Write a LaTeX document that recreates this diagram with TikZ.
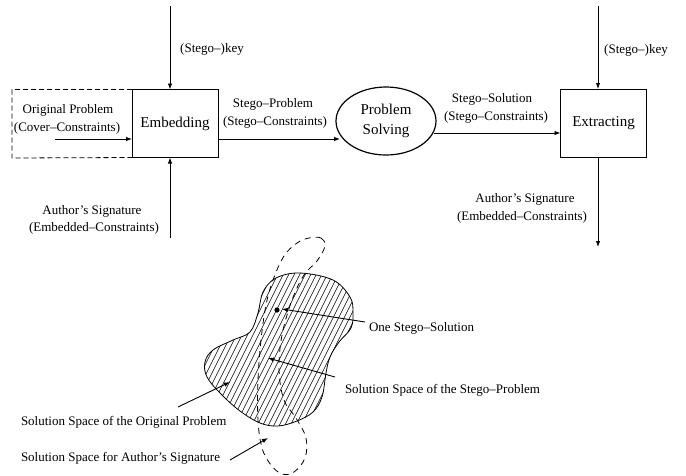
\documentclass[tikz,border=0pt]{standalone}
\usepackage{fontspec}
\setmainfont{Liberation Serif}
\usetikzlibrary{arrows.meta,shapes.geometric}
\begin{document}
\begin{tikzpicture}[x=1pt,y=-1pt,
  every node/.style={inner sep=0pt,outer sep=0pt},
  lbl/.style={font=\fontsize{13}{15}\selectfont},
  big/.style={font=\fontsize{15}{18}\selectfont},
  boxn/.style={draw,line width=0.9pt,minimum width=86pt,minimum height=68pt,big},
  arr/.style={line width=0.9pt,-{Latex[length=6pt,width=4.5pt]}},
  thin/.style={line width=0.8pt}]
\useasboundingbox (0,0) rectangle (686,475);

% upper blocks
\node[boxn] (emb) at (175,123.5) {Embedding};
\node[boxn] (ext) at (603.5,123) {Extracting};
\node[draw,ellipse,line width=1.2pt,minimum width=100pt,minimum height=68pt,big,align=center] (ps) at (386,121) {Problem\\[2pt]Solving};

% dashed original problem box
\coordinate (dbl) at (12,158);
\draw[dashed,thin,dash pattern=on 5pt off 3pt] (emb.north west) -| (dbl) -- (emb.south west);

% free ends
\coordinate (orig) at (55,139);
\coordinate (key1) at (170,6);
\coordinate (sig1) at (170,238);
\coordinate (key2) at (598,6);
\coordinate (sig2) at (598,247);

\draw[arr] (orig) -- (orig -| emb.west);
\draw[arr] (key1) -- (key1 |- emb.north);
\draw[arr] (sig1) -- (sig1 |- emb.south);
\draw[arr] (key2) -- (key2 |- ext.north);
\draw[arr] (key2 |- ext.south) -- (sig2);
\draw[arr] ([yshift=-15.5pt]emb.east) -- ([xshift=4pt,yshift=-18pt]ps.west);
\draw[arr] ([xshift=-2pt,yshift=-12pt]ps.east) -- ([yshift=-10pt]ext.west);

% labels upper
\node[lbl] (lk1) at (212,49) {(Stego–)key};
\node[lbl] (lk2) at (636,50) {(Stego–)key};
\node[lbl] (lo1) at (68,110) {Original Problem};
\node[lbl] (lo2) at (67,128) {(Cover–Constraints)};
\node[lbl] (ls1) at (92,211) {Author’s Signature};
\node[lbl] (ls2) at (94,228) {(Embedded–Constraints)};
\node[lbl] (lp1) at (273,104) {Stego–Problem};
\node[lbl] (lp2) at (275,122) {(Stego–Constraints)};
\node[lbl] (lq1) at (492,99) {Stego–Solution};
\node[lbl] (lq2) at (496,117) {(Stego–Constraints)};
\node[lbl] (lr1) at (525,199) {Author’s Signature};
\node[lbl] (lr2) at (522,217) {(Embedded–Constraints)};

% lower figure: hatched blob
\begin{scope}
\clip plot[smooth cycle,tension=0.6] coordinates {(300,273) (333,280) (350,297) (353,312) (351,328) (339,342) (330,357) (326,373) (322,397) (313,412) (297,421) (278,426) (260,423) (240,411) (221,394) (207,377) (205,362) (213,350) (233,340) (250,332) (258,313) (263,292) (276,278)};
\foreach \i in {80,85.5,...,380} {\draw[line width=0.65pt] (\i,450) -- ++(110,-220);}
\end{scope}
\draw[thin] plot[smooth cycle,tension=0.6] coordinates {(300,273) (333,280) (350,297) (353,312) (351,328) (339,342) (330,357) (326,373) (322,397) (313,412) (297,421) (278,426) (260,423) (240,411) (221,394) (207,377) (205,362) (213,350) (233,340) (250,332) (258,313) (263,292) (276,278)};

% dashed author's signature space
\draw[thin,dashed,dash pattern=on 6pt off 5pt] plot[smooth cycle,tension=0.6] coordinates {(309,238) (321,238) (325,246) (317,261) (304,275) (292,300) (282,335) (279,370) (284,400) (296,418) (306,438) (305,458) (294,472) (282,474) (271,465) (262,448) (258,420) (258,380) (261,340) (266,305) (273,280) (284,256) (297,243)};

% stego solution dot
\fill (277,310) circle (2.6pt) coordinate (dot);
\coordinate (dotin) at (282,309);

% lower labels
\node[lbl,anchor=west] (l1) at (369,328) {One Stego–Solution};
\node[lbl,anchor=west] (l2) at (345,390) {Solution Space of the Stego–Problem};
\node[lbl,anchor=west] (l3) at (21,422) {Solution Space of the Original Problem};
\node[lbl,anchor=west] (l4) at (21,458) {Solution Space for Author’s Signature};

\coordinate (a1s) at (365,322);
\coordinate (a2s) at (335,377);
\coordinate (a2e) at (268,358);
\coordinate (a3s) at (178,407);
\coordinate (a3e) at (230,382);
\coordinate (a4s) at (230,460);
\coordinate (a4e) at (268,438);
\draw[arr] (a1s) -- (dotin);
\draw[arr] (a2s) -- (a2e);
\draw[arr] (a3s) -- (a3e);
\draw[arr] (a4s) -- (a4e);
\end{tikzpicture}
\end{document}
